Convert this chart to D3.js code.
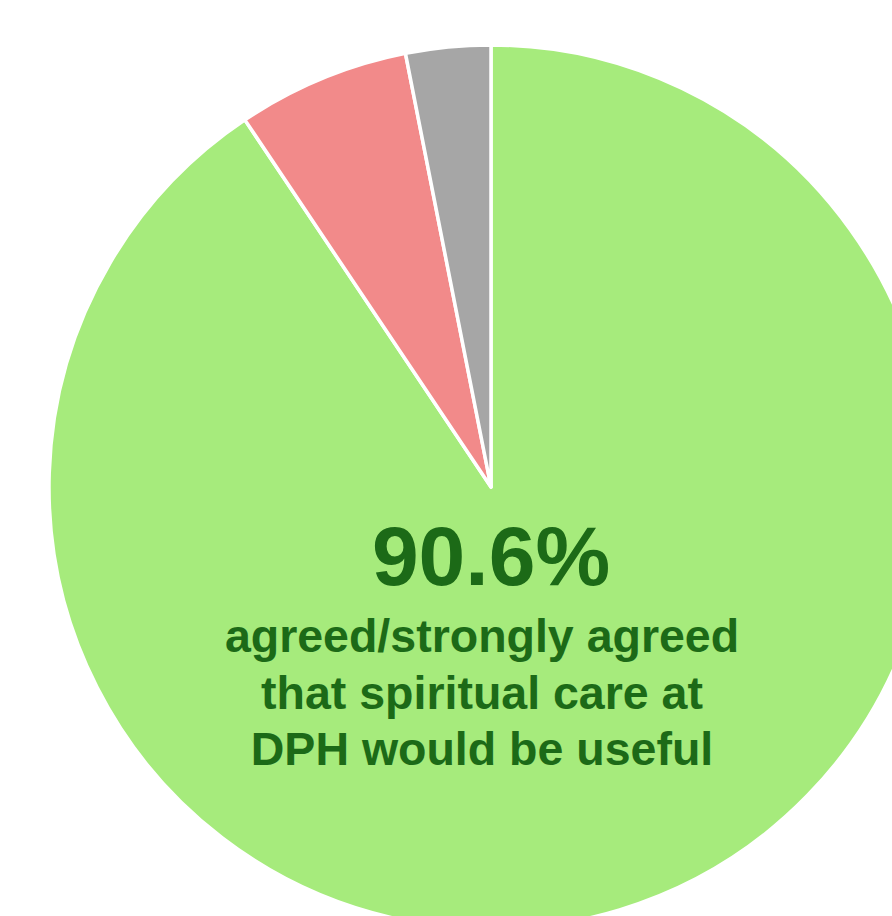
<!DOCTYPE html>
<html>
<head>
<meta charset="utf-8">
<script src="https://cdn.jsdelivr.net/npm/d3@7"></script>
<style>
	body { margin: 0; background: #fff; }
	svg { display: block; }
</style>
</head>
<body>
<div id="chart"></div>
<script>
// slice data, clockwise from 12 o'clock
var categories = ['Agreed/strongly agreed', 'Disagreed', 'Neutral'];
var values     = [90.6, 6.3, 3.1];
var colors     = ['#a6eb7c', '#f28a8a', '#a6a6a6'];

var headline   = '90.6%';
var labelLines = ['agreed/strongly agreed', 'that spiritual care at', 'DPH would be useful'];

var width = 892, height = 916;
var cx = 491, cy = 487, radius = 442;

var svg = d3.select('#chart').append('svg')
	.attr('width', width)
	.attr('height', height);

var vis = svg.append('g')
	.attr('transform', 'translate(' + cx + ',' + cy + ')');

var pie = d3.pie().sort(null).value(function(d) { return d; });
var arc = d3.arc().innerRadius(0).outerRadius(radius);

vis.selectAll('path')
	.data(pie(values))
	.enter().append('path')
	.attr('d', arc)
	.attr('fill', function(d, i) { return colors[i]; })
	.attr('stroke', '#fff')
	.attr('stroke-width', 3.5)
	.attr('stroke-linejoin', 'round');

var textColor = '#1c6a17';

vis.append('text')
	.attr('x', 0)
	.attr('y', 98)
	.attr('text-anchor', 'middle')
	.attr('font-family', '"Liberation Sans", Arial, sans-serif')
	.attr('font-weight', 'bold')
	.attr('font-size', 84)
	.attr('fill', textColor)
	.text(headline);

// the caption block sits a little left of the pie centre
vis.append('g').selectAll('text')
	.data(labelLines)
	.enter().append('text')
	.attr('x', -9)
	.attr('y', function(d, i) { return 165 + i * 56.5; })
	.attr('text-anchor', 'middle')
	.attr('font-family', '"Liberation Sans", Arial, sans-serif')
	.attr('font-weight', 'bold')
	.attr('font-size', 46.5)
	.attr('fill', textColor)
	.text(function(d) { return d; });
</script>
</body>
</html>
